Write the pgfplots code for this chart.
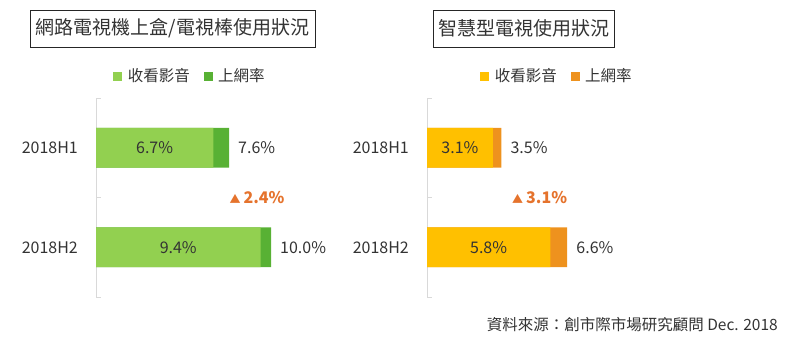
\documentclass[border=0pt]{standalone}
\usepackage{pgfplots}
\pgfplotsset{compat=1.18}
\usepackage{fontspec}
\setmainfont{Noto Sans CJK TC}
\definecolor{lgreen}{HTML}{92D050}
\definecolor{dgreen}{HTML}{58B134}
\definecolor{gold}{HTML}{FFC000}
\definecolor{dorange}{HTML}{EE921E}
\definecolor{anno}{HTML}{E5732D}
\definecolor{txt}{HTML}{333333}
\definecolor{axgray}{HTML}{D9D9D9}

\pgfplotsset{
  panel/.style={
    scale only axis, height=199bp, anchor=south west,
    xmin=0, ymin=-0.5, ymax=1.5, y dir=reverse,
    hide x axis, axis y line*=left,
    y axis line style={draw=axgray, line width=0.8bp},
    ytick={0,1}, yticklabels={2018H1,2018H2},
    major tick length=0pt,
    yticklabel style={font=\fontsize{16bp}{19bp}\selectfont, text=txt, inner sep=0pt, xshift=-18bp},
    extra y ticks={-0.5,0.5,1.5}, extra y tick labels={},
    extra y tick style={major tick length=5bp, tick align=inside, tick style={draw=axgray, line width=0.8bp}},
    clip=false,
    legend columns=2,
    legend style={draw=none, fill=none, font=\fontsize{15.5bp}{18bp}\selectfont, text=txt, anchor=center,
      /tikz/every even column/.append style={column sep=12bp}},
  },
  valbar/.style={xbar, bar width=0.4, bar shift=0pt, draw=none, fill=#1, forget plot},
  inlab/.style={draw=none, mark=none, forget plot, nodes near coords={\pgfplotspointmeta\%}, point meta=explicit symbolic,
     every node near coord/.style={anchor=center, inner sep=0pt, font=\fontsize{16bp}{19bp}\selectfont, text=txt}},
  totlab/.style={nodes near coords={\pgfplotspointmeta\%}, point meta=explicit symbolic,
     every node near coord/.style={anchor=west, inner sep=0pt, xshift=9bp, font=\fontsize{16bp}{19bp}\selectfont, text=txt}},
  sq/.style={legend image code/.code={\fill[#1] (0bp,-4bp) rectangle (8bp,4bp); \path (12bp,0bp);}},
}

\begin{document}
\begin{tikzpicture}
\path[use as bounding box] (0,0) rectangle (794bp,352bp);

% ---------- left panel ----------
\begin{axis}[panel, at={(96bp,55bp)}, width=210bp, xmax=12,
  legend style={at={(0.448,1.11)}}]
\addlegendimage{sq=lgreen}
\addlegendimage{sq=dgreen}
\addplot[valbar=dgreen, totlab] table[meta=lab] {
x y lab
7.6 0 7.6
10.0 1 10.0
};
\addplot[valbar=lgreen] table {
x y
6.7 0
9.4 1
};
\addplot[inlab] table[meta=lab] {
x y lab
3.35 0 6.7
4.7 1 9.4
};
\node[text=anno, font=\fontsize{16bp}{19bp}\selectfont] at (axis cs:9.2,0.5)
  {{\fontsize{11bp}{12bp}\selectfont ▲}\hspace{3bp}\textbf{2.4\%}};
\legend{收看影音,上網率}
\end{axis}

% ---------- right panel ----------
\begin{axis}[panel, at={(427bp,55bp)}, width=170bp, xmax=8,
  legend style={at={(0.765,1.11)}}]
\addlegendimage{sq=gold}
\addlegendimage{sq=dorange}
\addplot[valbar=dorange, totlab] table[meta=lab] {
x y lab
3.5 0 3.5
6.6 1 6.6
};
\addplot[valbar=gold] table {
x y
3.1 0
5.8 1
};
\addplot[inlab] table[meta=lab] {
x y lab
1.55 0 3.1
2.9 1 5.8
};
\node[text=anno, font=\fontsize{16bp}{19bp}\selectfont] at (axis cs:5.3,0.5)
  {{\fontsize{11bp}{12bp}\selectfont ▲}\hspace{3bp}\textbf{3.1\%}};
\legend{收看影音,上網率}
\end{axis}

% ---------- titles and source ----------
\node[draw=black!85, line width=0.8bp, minimum width=285bp, minimum height=37bp, inner sep=0pt,
  font=\fontsize{19bp}{22bp}\selectfont, text=txt] at (172.5bp,323.5bp) {網路電視機上盒/電視棒使用狀況};
\node[draw=black!85, line width=0.8bp, minimum width=181bp, minimum height=37bp, inner sep=0pt,
  font=\fontsize{19bp}{22bp}\selectfont, text=txt] at (523.5bp,323.5bp) {智慧型電視使用狀況};
\node[anchor=east, inner sep=0pt, font=\fontsize{15.5bp}{18bp}\selectfont, text=txt] at (778bp,27bp)
  {資料來源：創市際市場研究顧問 Dec. 2018};
\end{tikzpicture}
\end{document}
